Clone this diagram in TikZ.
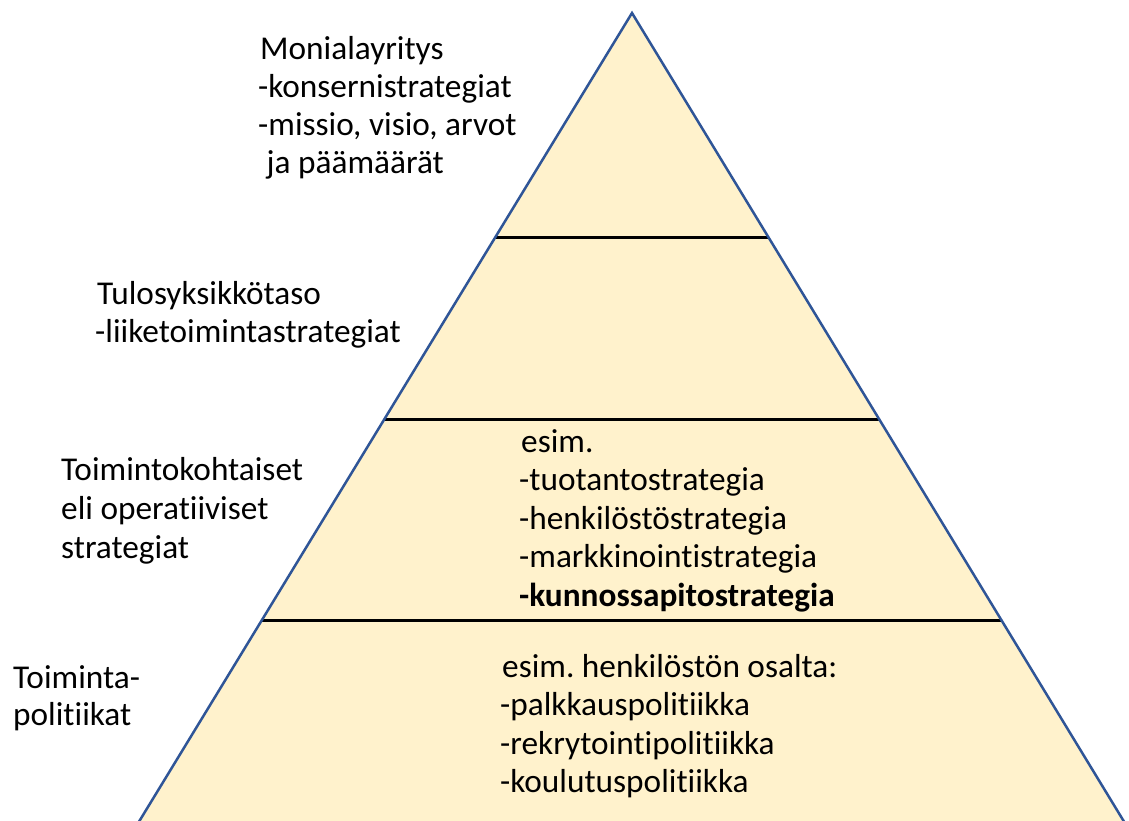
\documentclass[tikz,border=0pt]{standalone}
\usepackage{fontspec}
\setmainfont{Carlito}[Ligatures=NoCommon]
\usetikzlibrary{calc}
\definecolor{layerfill}{HTML}{FFF2CC}
\definecolor{edgeblue}{HTML}{2F5597}
\frenchspacing
\begin{document}
\begin{tikzpicture}[x=1pt,y=-1pt,
  txt/.style={anchor=base west,inner sep=0pt,font=\fontsize{33.3}{38}\selectfont,text=black},
  divider/.style={draw=black,line width=3pt},
  outline/.style={draw=edgeblue,line width=2.5pt,line join=miter}]
\useasboundingbox (0,0) rectangle (1129,820);
\clip (0,0) rectangle (1129,820);
% pyramid corners (base runs past the lower edge)
\coordinate (apex) at (632,13);
\coordinate (bl) at (127.8,840);
\coordinate (br) at (1135.2,840);
\fill[layerfill] (apex) -- (bl) -- (br) -- cycle;
% level dividers
\draw[divider] ($(apex)!0.2709!(bl)$) -- ($(apex)!0.2709!(br)$);
\draw[divider] ($(apex)!0.4921!(bl)$) -- ($(apex)!0.4921!(br)$);
\draw[divider] ($(apex)!0.7340!(bl)$) -- ($(apex)!0.7340!(br)$);
\draw[outline] (bl) -- (apex) -- (br);
% corporate level
\node[txt] (c1) at (260,59) {Monialayritys};
\node[txt] (c2) at (258,97) {-konsernistrategiat};
\node[txt] (c3) at (258,135) {-missio, visio, arvot};
\node[txt] (c4) at (259,173) {\ ja päämäärät};
% business unit level
\node[txt] (b1) at (97,304) {Tulosyksikkötaso};
\node[txt] (b2) at (95,342) {-liiketoimintastrategiat};
% functional level
\node[txt] (f1) at (61,480) {Toimintokohtaiset};
\node[txt] (f2) at (61,519) {eli operatiiviset};
\node[txt] (f3) at (61,558) {strategiat};
\node[txt] (e1) at (521,452) {esim.};
\node[txt] (e2) at (519,490.5) {-tuotantostrategia};
\node[txt] (e3) at (519,529) {-henkilöstöstrategia};
\node[txt] (e4) at (519,567.5) {-markkinointistrategia};
\node[txt,font=\fontsize{33.3}{38}\selectfont\bfseries] (e5) at (519,606) {-kunnossapitostrategia};
% policy level
\node[txt] (p1) at (13,688) {Toiminta-};
\node[txt] (p2) at (13,725) {politiikat};
\node[txt] (q1) at (502,677) {esim. henkilöstön osalta:};
\node[txt] (q2) at (500,715.5) {-palkkauspolitiikka};
\node[txt] (q3) at (500,754) {-rekrytointipolitiikka};
\node[txt] (q4) at (500,792.5) {-koulutuspolitiikka};
\end{tikzpicture}
\end{document}
